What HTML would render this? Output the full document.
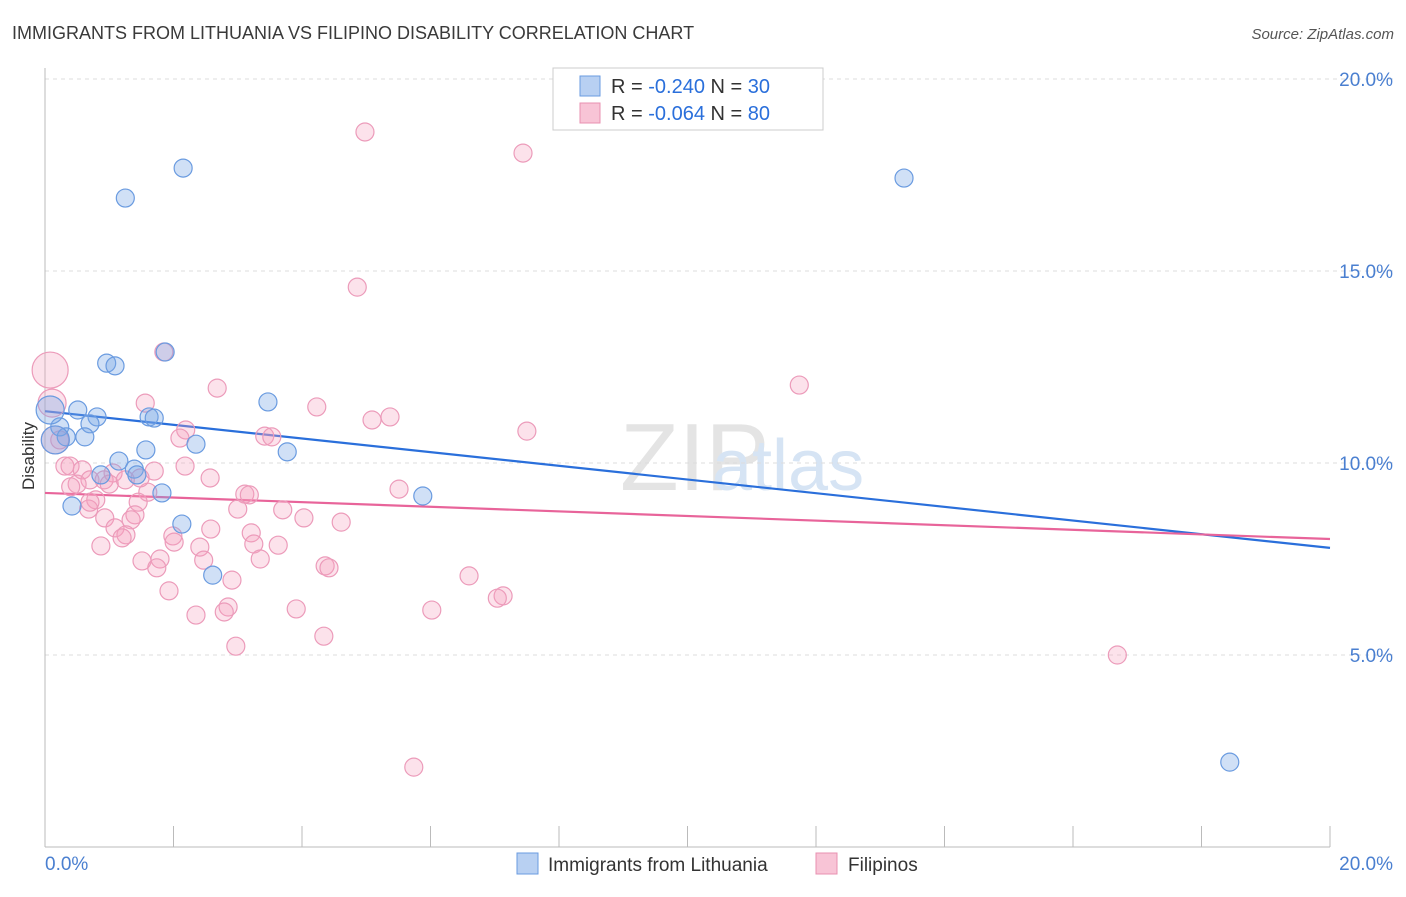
<!DOCTYPE html>
<html><head><meta charset="utf-8"><style>
body{margin:0;background:#fff;font-family:"Liberation Sans",sans-serif;}
svg text{font-family:"Liberation Sans",sans-serif;}
</style></head><body>
<svg id="chart" width="1406" height="892" xmlns="http://www.w3.org/2000/svg">
<text x="12" y="39" font-size="18" fill="#3a3a3a">IMMIGRANTS FROM LITHUANIA VS FILIPINO DISABILITY CORRELATION CHART</text>
<text x="1394" y="39" font-size="15" fill="#555" text-anchor="end" font-style="italic">Source: ZipAtlas.com</text>
<text x="620" y="490" font-size="96" fill="#e4e4e4" font-family="Liberation Serif">ZIP</text>
<text x="712" y="490" font-size="72" fill="#d6e4f4">atlas</text>
<g id="grid"></g><g id="axes"></g><g id="lines"></g><g id="pts"></g>
<text transform="translate(34,456) rotate(-90)" font-size="17" fill="#333" text-anchor="middle">Disability</text>
<rect x="553" y="68" width="270" height="62" fill="#fff" stroke="#ccc"/>
<rect x="580" y="76" width="20" height="20" fill="#b8d0f2" stroke="#6a9be0"/>
<rect x="580" y="103" width="20" height="20" fill="#f8c4d6" stroke="#e890b0"/>
<text x="611" y="93" font-size="20" fill="#333">R = <tspan fill="#2a6fdb">-0.240</tspan>   N = <tspan fill="#2a6fdb">30</tspan></text>
<text x="611" y="120" font-size="20" fill="#333">R = <tspan fill="#2a6fdb">-0.064</tspan>   N = <tspan fill="#2a6fdb">80</tspan></text>
<rect x="517" y="853" width="21" height="21" fill="#b8d0f2" stroke="#6a9be0"/>
<text x="548" y="871" font-size="19" fill="#333">Immigrants from Lithuania</text>
<rect x="816" y="853" width="21" height="21" fill="#f8c4d6" stroke="#e890b0"/>
<text x="848" y="871" font-size="19" fill="#333">Filipinos</text>
</svg>
<script>
const yTicks=[5,10,15,20];
const yTickLabels=["5.0%","10.0%","15.0%","20.0%"];
const xEndLabels=["0.0%","20.0%"];
const blueX=[2.15,1.25,13.37,1.87,0.96,1.09,3.47,0.51,0.81,1.62,1.70,0.23,0.70,0.33,0.16,0.62,2.35,1.57,3.77,1.15,1.39,1.43,0.87,1.82,5.88,0.42,2.13,2.61,18.44,0.08];
const blueY=[17.68,16.90,17.42,12.89,12.60,12.53,11.59,11.38,11.20,11.20,11.17,10.94,11.02,10.68,10.60,10.68,10.49,10.34,10.29,10.05,9.84,9.69,9.69,9.22,9.14,8.88,8.41,7.08,2.21,11.38];
const pinkX=[0.08,0.11,0.16,0.23,4.98,7.44,4.86,1.85,2.68,11.74,1.56,4.23,5.37,5.09,2.19,7.50,3.42,3.53,2.10,2.18,0.31,0.39,0.58,1.70,1.06,2.57,0.70,0.92,0.50,0.40,1.00,1.60,5.51,3.11,3.18,0.79,1.45,3.00,3.70,0.68,1.40,4.03,0.93,1.34,4.61,2.58,1.09,1.26,1.20,1.99,3.21,2.01,3.25,3.63,0.87,2.41,1.51,1.79,3.35,2.47,1.74,4.36,4.42,6.60,2.91,7.13,7.04,1.93,2.85,3.91,6.02,2.79,2.35,4.34,2.97,16.69,5.74,0.70,1.25,1.48];
const pinkY=[12.42,11.56,10.60,10.60,18.62,18.07,14.58,12.89,11.95,12.03,11.56,11.46,11.20,11.12,10.86,10.83,10.70,10.68,10.65,9.92,9.92,9.92,9.82,9.79,9.74,9.61,9.56,9.56,9.45,9.38,9.45,9.24,9.32,9.19,9.17,9.04,8.98,8.80,8.78,8.80,8.65,8.57,8.57,8.52,8.46,8.28,8.31,8.13,8.05,8.10,8.18,7.94,7.89,7.86,7.84,7.81,7.45,7.50,7.50,7.47,7.27,7.32,7.27,7.06,6.95,6.54,6.48,6.67,6.25,6.20,6.17,6.12,6.04,5.49,5.23,5.00,2.08,8.98,9.56,9.61];
const blueTrend=[11.35,7.79];
const pinkTrend=[9.22,8.02];
const NS="http://www.w3.org/2000/svg";
const xs=v=>45+v*64.25, ys=v=>847-v*38.4;
function mk(tag,attrs,parent){const e=document.createElementNS(NS,tag);for(const k in attrs)e.setAttribute(k,attrs[k]);document.getElementById(parent).appendChild(e);return e;}
yTicks.forEach((t,i)=>{
 const g=mk('line',{x1:45,x2:1393,y1:ys(t),y2:ys(t),stroke:'#ddd','stroke-dasharray':'4,4'},'grid');
 
 
 const l=mk('text',{x:1393,y:ys(t)+7,'font-size':19,fill:'#4a7fd0','text-anchor':'end'},'grid');
 l.textContent=yTickLabels[i];
 
 
});
const ax=mk('line',{x1:45,x2:45,y1:68,y2:847,stroke:'#bbb'},'axes');


const bx=mk('line',{x1:45,x2:1330,y1:847,y2:847,stroke:'#bbb'},'axes');


for(let i=0;i<=10;i++){
 const t=mk('line',{x1:xs(i*2),x2:xs(i*2),y1:826,y2:847,stroke:'#bbb'},'axes');
 
 
}
[[0,'start',45],[1,'end',1393]].forEach(([i,a,x])=>{
 const t=mk('text',{x:x,y:870,'font-size':19,fill:'#4a7fd0','text-anchor':a},'axes');
 t.textContent=xEndLabels[i];
 
 
});
function pts(X,Y,fill,stroke,name){
 X.forEach((x,i)=>{
  const r=(x<0.2)?(i<2&&name==='filipino-point'?18-i*4:14):9;
  const c=mk('circle',{cx:xs(x),cy:ys(Y[i]),r:r,fill:fill,stroke:stroke,'stroke-width':1.2},'pts');
  
  
 });
}
pts(pinkX,pinkY,'rgba(244,160,190,0.3)','#ec9bba','filipino-point');
pts(blueX,blueY,'rgba(120,165,230,0.35)','#6a9be0','lithuania-point');
const bl=mk('line',{x1:xs(0),x2:xs(20),y1:ys(blueTrend[0]),y2:ys(blueTrend[1]),stroke:'#2a6fdb','stroke-width':2.2},'lines');


const pl=mk('line',{x1:xs(0),x2:xs(20),y1:ys(pinkTrend[0]),y2:ys(pinkTrend[1]),stroke:'#e8649a','stroke-width':2.2},'lines');


</script>
</body></html>
